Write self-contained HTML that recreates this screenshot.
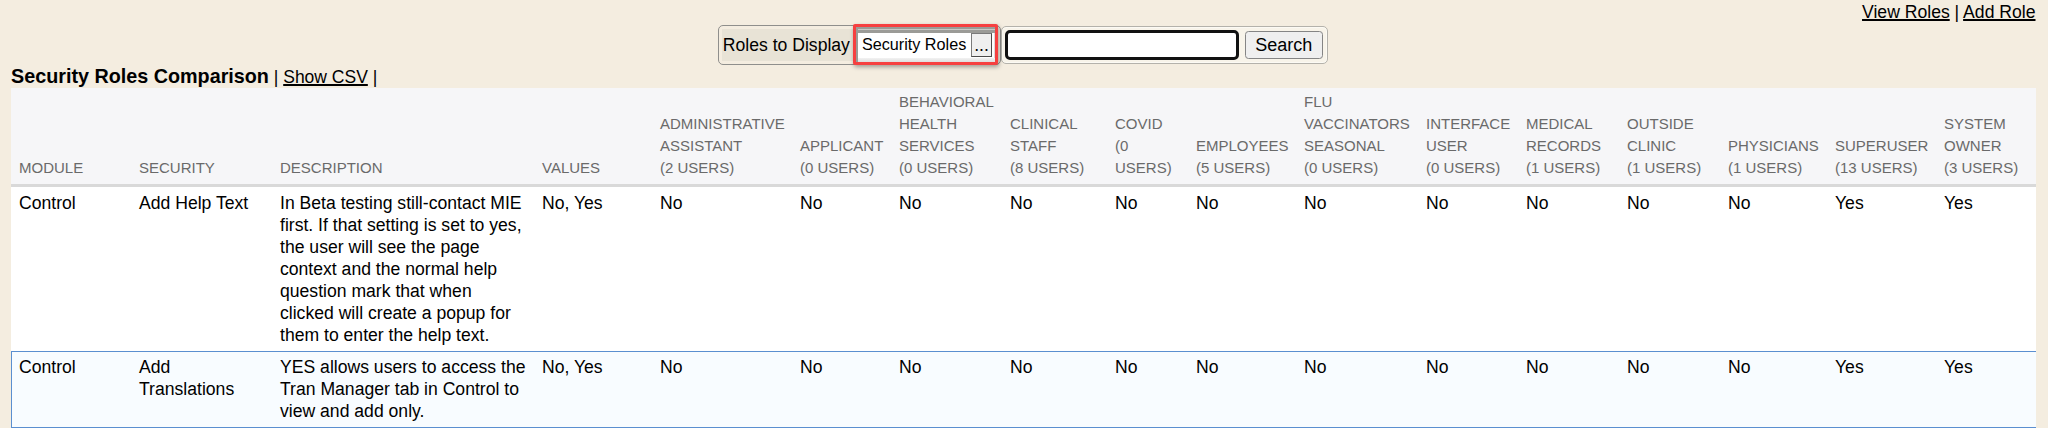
<!DOCTYPE html>
<html><head><meta charset="utf-8">
<style>
html,body{margin:0;padding:0;}
body{width:2048px;height:428px;overflow:hidden;background:#f4ede0;font-family:"Liberation Sans",Arial,sans-serif;color:#000;position:relative;}
a{color:#000;text-decoration:underline;text-decoration-thickness:1.5px;}
.top{position:absolute;right:12.5px;top:1px;font-size:17.6px;line-height:22px;white-space:nowrap;}
.fs{position:absolute;box-sizing:border-box;border:1px solid #8f8f8c;border-radius:5px;background:#f4ede0;}
#fs1{left:718px;top:25px;width:283px;height:40px;}
#fs1 .lab{position:absolute;left:3px;top:3px;width:134px;height:32px;background:#e8e3d6;font-size:17.6px;line-height:32px;padding-left:0.8px;white-space:nowrap;}
#hl{position:absolute;left:853px;top:24px;width:145px;height:41px;box-sizing:border-box;border:3px solid #f64040;border-radius:2px;box-shadow:1px 2px 4px rgba(0,0,0,.35);background:#fff;}
#hl .bar{position:absolute;left:0;top:0;right:0;height:6px;background:#9b9b97;}
#hl .bar:after{content:"";position:absolute;left:2px;right:0;top:2px;height:1px;background:#c9c9c6;}
#hl .lbar{position:absolute;left:0;top:0;width:2px;bottom:0;background:#9b9b97;}
#hl .rbar{position:absolute;right:0;top:6px;width:1.5px;bottom:0;background:#dadada;}
#hl .bbar{position:absolute;left:2px;bottom:0;right:0;height:4px;background:linear-gradient(#f2f2f2,#dedede);}
#hl .txt{position:absolute;left:5.9px;top:5.4px;font-size:16.2px;line-height:24px;white-space:nowrap;}
#hl .btn{position:absolute;left:115px;top:6px;width:21px;height:24px;box-sizing:border-box;border:1px solid #4a4a4a;border-top-color:#7a7a7a;border-left-color:#7a7a7a;background:#efefef;font-size:17.6px;line-height:23px;text-align:center;}
#fs2{left:1001px;top:26px;width:327px;height:38px;border-color:#b4b2ab;background:#f8f4ea;box-shadow:inset 0 0 0 1px #fcfaf4;}
#inp{position:absolute;left:1005px;top:30px;width:234px;height:30px;box-sizing:border-box;border:3px solid #111;border-radius:5px;background:#fff;}
#sb{position:absolute;left:1244.5px;top:31px;width:78.5px;height:28px;box-sizing:border-box;border:1px solid #858585;border-radius:3.5px;background:#efefef;font-size:18px;line-height:26px;text-align:center;}
h1{position:absolute;left:11px;top:64px;margin:0;font-size:19.75px;line-height:24px;font-weight:bold;white-space:nowrap;}
h1 span{font-weight:normal;font-size:17.5px;}
table{position:absolute;left:11px;top:88px;width:2025px;border-collapse:separate;border-spacing:0;table-layout:fixed;font-size:17.6px;line-height:22px;}
th{background:#f6f6f8;color:#6a6a6a;font-weight:normal;text-transform:uppercase;font-size:15px;line-height:22px;text-align:left;vertical-align:bottom;padding:3px 8px 5px 8px;border-bottom:3px solid #d9d9d9;letter-spacing:0;}
td{vertical-align:top;padding:5px 8px 5px 8px;background:#fff;}
tr.r2 td{padding-top:5px;padding-bottom:6px;}
tr.r2 td{background:#f8fcff;box-shadow:inset 0 1px 0 #5b8fd0, inset 0 -1px 0 #5b8fd0;}
tr.r2 td:first-child{box-shadow:inset 0 1px 0 #5b8fd0, inset 0 -1px 0 #5b8fd0, inset 1px 0 0 #5b8fd0;}
</style></head><body>
<div class="top"><a>View Roles</a> | <a>Add Role</a></div>
<div class="fs" id="fs1"><div class="lab">Roles to Display</div></div>
<div class="fs" id="fs2"></div>
<div id="hl"><div class="bar"></div><div class="lbar"></div><div class="rbar"></div><div class="bbar"></div><div class="txt">Security Roles</div><div class="btn">...</div></div>
<div id="inp"></div>
<div id="sb">Search</div>
<h1>Security Roles Comparison<span> | <a>Show CSV</a> |</span></h1>
<table>
<colgroup>
<col style="width:120px"><col style="width:141px"><col style="width:262px"><col style="width:118px"><col style="width:140px"><col style="width:99px"><col style="width:111px"><col style="width:105px"><col style="width:81px"><col style="width:108px"><col style="width:122px"><col style="width:100px"><col style="width:101px"><col style="width:101px"><col style="width:107px"><col style="width:109px"><col style="width:100px">
</colgroup>
<thead><tr>
<th>Module</th><th>Security</th><th>Description</th><th>Values</th>
<th>Administrative<br>Assistant<br>(2 Users)</th>
<th>Applicant<br>(0 Users)</th>
<th>Behavioral<br>Health<br>Services<br>(0 Users)</th>
<th>Clinical<br>Staff<br>(8 Users)</th>
<th>Covid<br>(0<br>Users)</th>
<th>Employees<br>(5 Users)</th>
<th>Flu<br>Vaccinators<br>Seasonal<br>(0 Users)</th>
<th>Interface<br>User<br>(0 Users)</th>
<th>Medical<br>Records<br>(1 Users)</th>
<th>Outside<br>Clinic<br>(1 Users)</th>
<th>Physicians<br>(1 Users)</th>
<th>Superuser<br>(13 Users)</th>
<th>System<br>Owner<br>(3 Users)</th>
</tr></thead>
<tbody>
<tr class="r1">
<td>Control</td><td>Add Help Text</td>
<td>In Beta testing still-contact MIE<br>first. If that setting is set to yes,<br>the user will see the page<br>context and the normal help<br>question mark that when<br>clicked will create a popup for<br>them to enter the help text.</td>
<td>No, Yes</td><td>No</td><td>No</td><td>No</td><td>No</td><td>No</td><td>No</td><td>No</td><td>No</td><td>No</td><td>No</td><td>No</td><td>Yes</td><td>Yes</td>
</tr>
<tr class="r2">
<td>Control</td><td>Add<br>Translations</td>
<td>YES allows users to access the<br>Tran Manager tab in Control to<br>view and add only.</td>
<td>No, Yes</td><td>No</td><td>No</td><td>No</td><td>No</td><td>No</td><td>No</td><td>No</td><td>No</td><td>No</td><td>No</td><td>No</td><td>Yes</td><td>Yes</td>
</tr>
</tbody>
</table>
</body></html>
